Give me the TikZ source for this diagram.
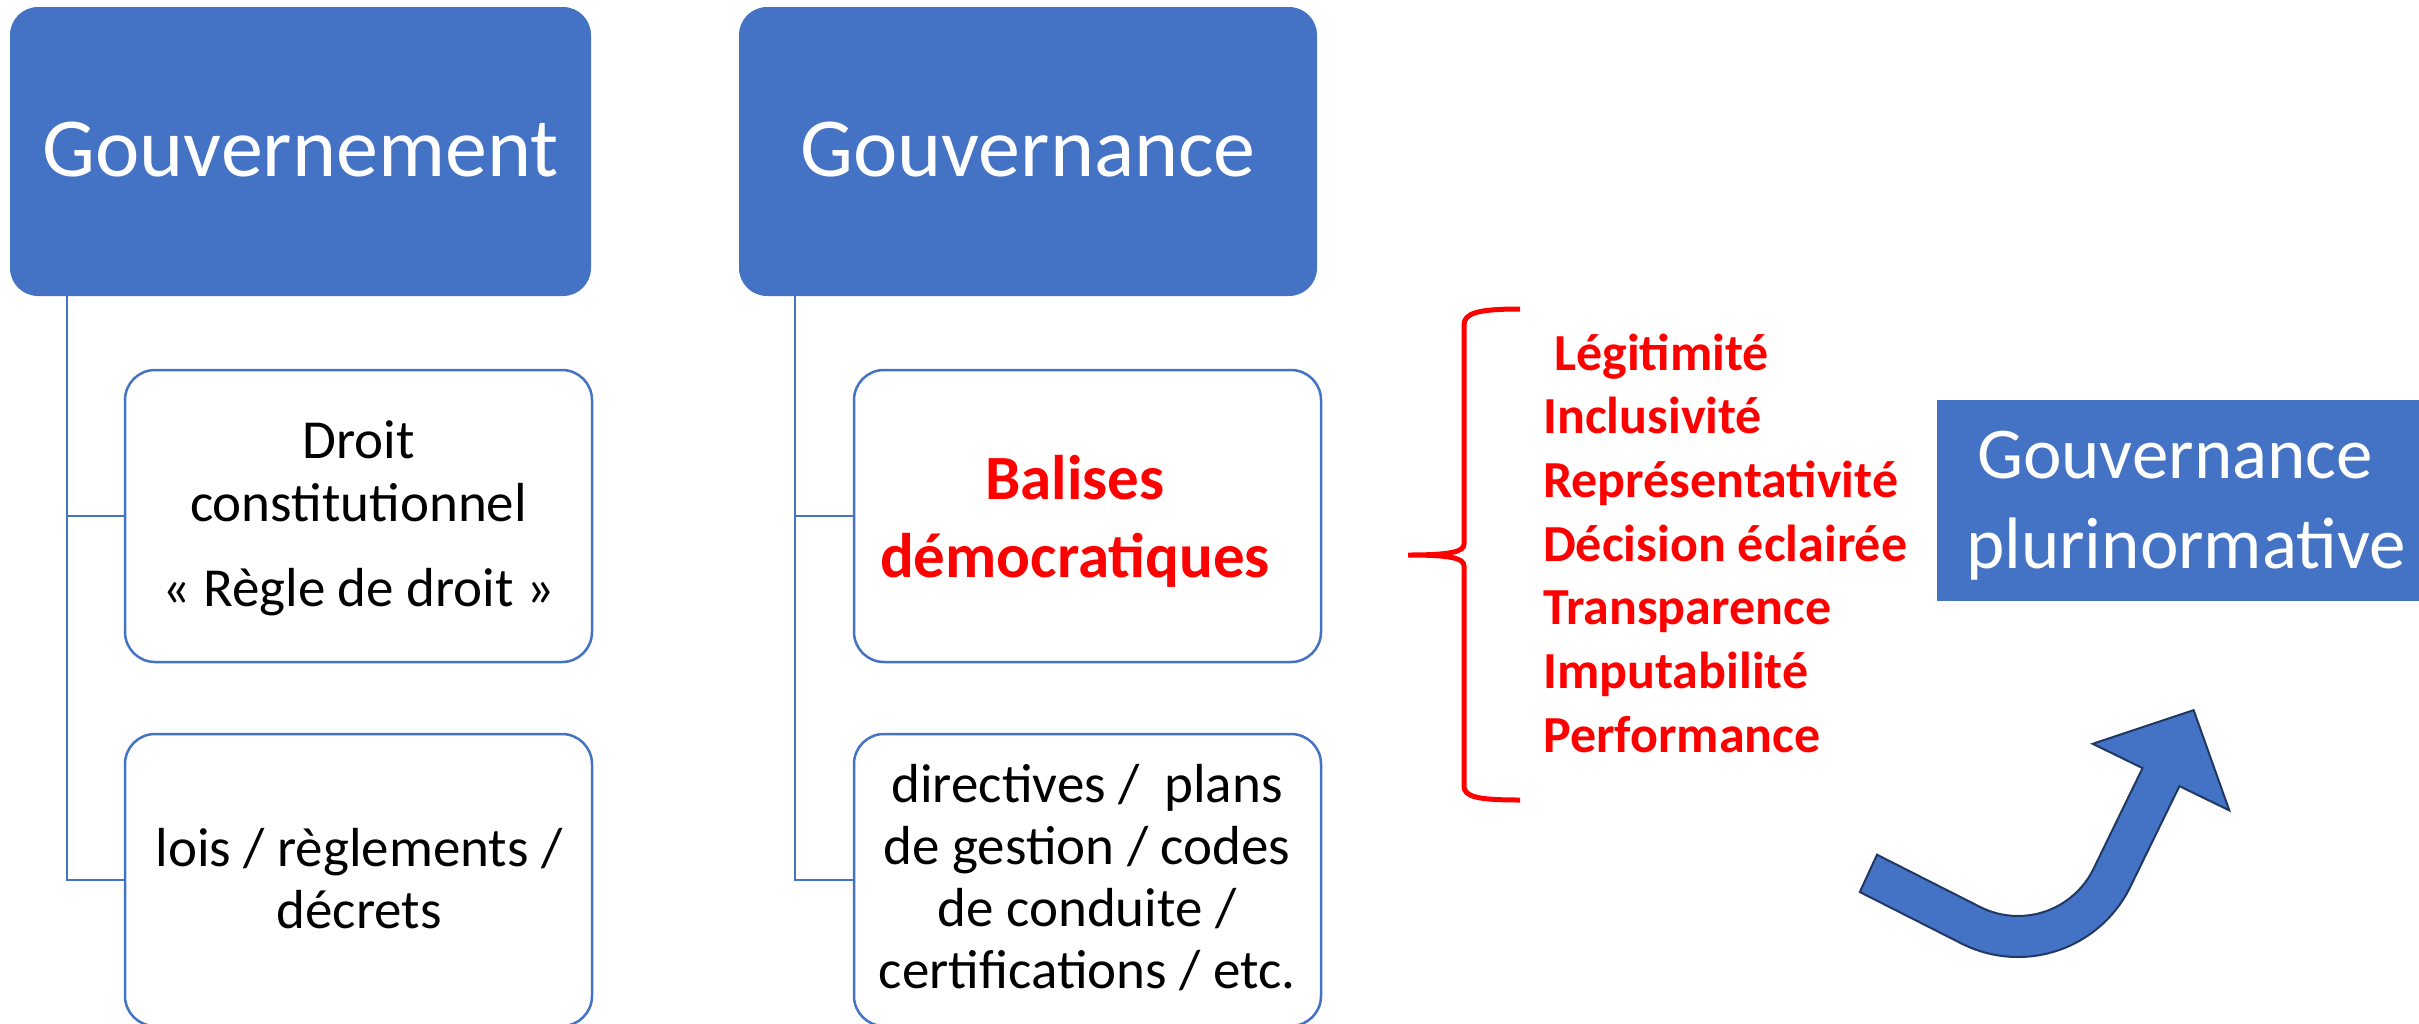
\documentclass[tikz,border=0pt]{standalone}
\usepackage{fontspec}
\setmainfont{Carlito}
\definecolor{sblue}{HTML}{4472C4}
\definecolor{sred}{HTML}{FF0000}
\definecolor{snavy}{HTML}{1F3864}
\newcommand{\fsz}[2]{\fontsize{#1}{#2}\selectfont}
\newcommand{\tstrut}{\rule{0pt}{1em}}
\newcommand{\bstrut}{\rule[-1em]{0pt}{1em}}
\begin{document}
\begin{tikzpicture}[x=1pt,y=-1pt,
  headbox/.style={fill=sblue, draw=none, rounded corners=28pt, minimum height=289pt, inner sep=0pt},
  subbox/.style={draw=sblue, line width=2.5pt, fill=white, rounded corners=30pt, minimum width=467pt, minimum height=292pt, inner sep=0pt},
  link/.style={draw=sblue, line width=2.5pt},
  txt/.style={inner sep=0pt, align=center},
  redtxt/.style={inner sep=0pt, text=sred, font=\bfseries},
]
\useasboundingbox (0,0) rectangle (2419,1023);

% head boxes
\node[headbox, minimum width=581pt] (gouvt) at (300.5,151.5) {};
\node[headbox, minimum width=578pt] (gouvn) at (1028,151.5) {};
\node[txt, text=white, font=\fsz{84}{101}, anchor=base] (gouvtT) at (300.5,176) {Gouvernement};
\node[txt, text=white, font=\fsz{84}{101}, anchor=base] (gouvnT) at (1028,176) {Gouvernance};

% sub boxes
\node[subbox] (droit) at (358.5,516) {};
\node[subbox] (lois) at (358.5,880) {};
\node[subbox] (balises) at (1087.5,516) {};
\node[subbox] (directives) at (1087.5,880) {};

% connectors
\coordinate (s1) at (67,296);
\coordinate (s2) at (795,296);
\draw[link] (s1) |- (droit.west);
\draw[link] (s1) |- (lois.west);
\draw[link] (s2) |- (balises.west);
\draw[link] (s2) |- (directives.west);

% texts in sub boxes
\node[txt, font=\fsz{55}{63}] (droitT) at (358.5,532)
  {\tstrut Droit\\constitutionnel\\[22pt]«~Règle de droit~»\bstrut};
\node[txt, font=\fsz{55}{62}] (loisT) at (359,897)
  {\tstrut lois / règlements /\\décrets\bstrut};
\node[txt, redtxt, font=\fsz{63}{78}\bfseries] (balisesT) at (1075,538)
  {\tstrut Balises\\démocratiques\bstrut};
\node[txt, font=\fsz{55}{61.7}] (directivesT) at (1087,895.5)
  {\tstrut directives /\ \ plans\\de gestion / codes\\de conduite /\\certifications / etc.\bstrut};

% brace
\draw[sred, line width=5pt] (1520,309) .. controls (1478,309) and (1464,313) .. (1464,325)
  -- (1464,544) .. controls (1464,552) and (1450,555) .. (1408,555)
  .. controls (1450,555) and (1464,558) .. (1464,566)
  -- (1464,786) .. controls (1464,797) and (1478,800) .. (1520,800);

% list
\node[redtxt, align=left, font=\fsz{52}{63.67}\bfseries, anchor=west] (list) at (1543,561)
  {\tstrut\hspace*{11pt}Légitimité\\Inclusivité\\Représentativité\\Décision éclairée\\Transparence\\Imputabilité\\Performance\bstrut};

% result box
\node[fill=sblue, draw=none, minimum width=498pt, minimum height=201pt, inner sep=0pt] (pluri) at (2186,500.5) {};
\node[txt, text=white, font=\fsz{73}{90}] (pluriT) at (2186,523)
  {\tstrut Gouvernance\hspace*{22pt}\\plurinormative\bstrut};

% bent arrow
\draw[fill=sblue, draw=snavy, line width=2pt, line join=miter]
  (1859.8,892) -- (1877,854.7) -- (1980,906.9)
  arc[start angle=116.9, end angle=26, radius=84]
  -- (2142.5,768.1) -- (2092.7,743.8) -- (2193.6,710.1) -- (2229.3,810.4) -- (2179.4,786.1) -- (2130.3,886.8)
  arc[start angle=26, end angle=116.9, radius=125] -- cycle;
\end{tikzpicture}
\end{document}
